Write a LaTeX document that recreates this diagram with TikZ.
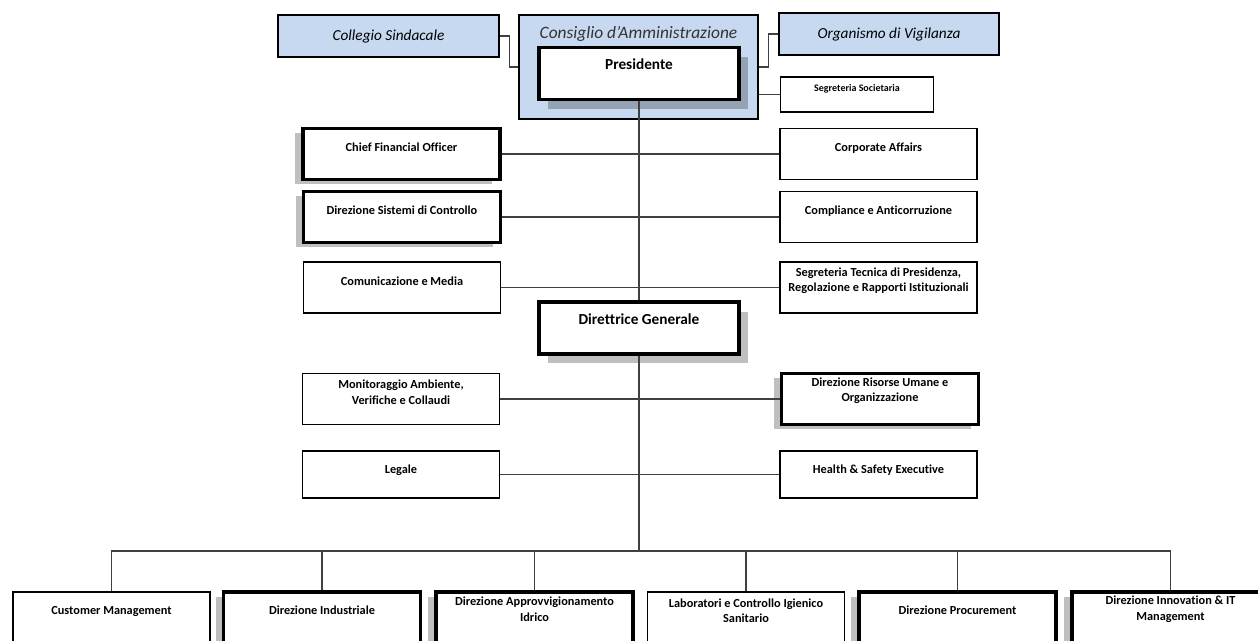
\documentclass[tikz,border=0pt]{standalone}
\usepackage{fontspec}
\setmainfont{Carlito}[Ligatures=NoCommon]
\usetikzlibrary{positioning,shadows}
\definecolor{boardblue}{HTML}{C6D9F1}
\definecolor{linegray}{HTML}{404040}

\begin{document}
\begin{tikzpicture}[
    x=0.02cm, y=-0.02cm,
    box/.style={rectangle, draw, line width=0.7pt, fill=white, minimum width=3.94cm, minimum height=1.02cm, inner sep=0pt},
    key/.style={box, line width=2pt},
    keyl/.style={key, drop shadow={fill=black, opacity=.25, shadow xshift=-4.5pt, shadow yshift=-2.8pt}},
    keyr/.style={key, drop shadow={fill=black, opacity=.25, shadow xshift=5.1pt, shadow yshift=-5.4pt}},
    organ/.style={rectangle, draw, line width=0.9pt, fill=boardblue, inner sep=0pt},
    txt/.style={font=\fontsize{7}{9}\selectfont\bfseries, align=center, inner sep=0pt},
    big/.style={font=\fontsize{8.7}{10}\selectfont\bfseries, inner sep=0pt},
    ital/.style={font=\fontsize{8.7}{10}\selectfont\itshape, inner sep=0pt},
    link/.style={draw=linegray, line width=0.6pt}
]
    \useasboundingbox (0,0) rectangle (1258,640);

    % board and control bodies
    \node[organ, ital, minimum width=4.42cm, minimum height=0.84cm] (cs) at (388.5,36) {Collegio Sindacale};
    \node[organ, minimum width=4.78cm, minimum height=2.08cm] (cda) at (638.5,67) {};
    \node[ital, font=\fontsize{9.9}{11}\selectfont\itshape, text=black!80] (cda-t) at ([yshift=-11.2pt]cda.north) {Consiglio d’Amministrazione};
    \node[organ, ital, minimum width=4.4cm, minimum height=0.84cm] (odv) at (889,34) {Organismo di Vigilanza};
    \node[keyr, minimum width=4.0cm, minimum height=1.04cm] (pres) at (639,73.5) {};
    \node[big] (pres-t) at ([yshift=-10.7pt]pres.north) {Presidente};
    \node[box, minimum width=3.06cm, minimum height=0.7cm] (segsoc) at (857,94.5) {};
    \node[txt, font=\fontsize{5.7}{7}\selectfont\bfseries] (segsoc-t) at ([yshift=-7pt]segsoc.north) {Segreteria Societaria};

    % staff of the president
    \node[keyl] (cfo) at (401.5,154) {};
    \node[txt] (cfo-t) at ([yshift=-11.4pt]cfo.north) {Chief Financial Officer};
    \node[box] (corpaff) at (878.5,154) {};
    \node[txt] (corpaff-t) at ([yshift=-11.4pt]corpaff.north) {Corporate Affairs};
    \node[keyl] (dsc) at (402,217) {};
    \node[txt] (dsc-t) at ([yshift=-11.4pt]dsc.north) {Direzione Sistemi di Controllo};
    \node[box] (compl) at (878.5,217) {};
    \node[txt] (compl-t) at ([yshift=-11.4pt]compl.north) {Compliance e Anticorruzione};
    \node[box] (comm) at (402,287.5) {};
    \node[txt] (comm-t) at ([yshift=-11.4pt]comm.north) {Comunicazione e Media};
    \node[box] (segtec) at (878.5,287.5) {};
    \node[txt] (segtec-t) at ([yshift=-11pt]segtec.north) {Segreteria Tecnica di Presidenza,\\Regolazione e Rapporti Istituzionali};

    % general management
    \node[keyr, minimum width=4.0cm, minimum height=1.04cm] (dg) at (639,328) {};
    \node[big] (dg-t) at ([yshift=-10.7pt]dg.north) {Direttrice Generale};
    \node[box] (monit) at (401,399) {};
    \node[txt] (monit-t) at ([yshift=-10.8pt]monit.north) {Monitoraggio Ambiente,\\Verifiche e Collaudi};
    \node[keyl] (hr) at (880,399) {};
    \node[txt] (hr-t) at ([yshift=-10.8pt]hr.north) {Direzione Risorse Umane e\\Organizzazione};
    \node[box, minimum height=0.94cm] (legal) at (401,474.5) {};
    \node[txt] (legal-t) at ([yshift=-11.4pt]legal.north) {Legale};
    \node[box, minimum height=0.94cm] (hse) at (878.5,474.5) {};
    \node[txt] (hse-t) at ([yshift=-11.4pt]hse.north) {Health \& Safety Executive};

    % operating directions
    \node[box, minimum height=1.04cm] (custm) at (111.5,618) {};
    \node[txt] (custm-t) at ([yshift=-11.4pt]custm.north) {Customer Management};
    \node[keyl, minimum height=1.04cm] (dind) at (322,618) {};
    \node[txt] (dind-t) at ([yshift=-11.4pt]dind.north) {Direzione Industriale};
    \node[keyl, minimum height=1.04cm] (dapp) at (534.5,618) {};
    \node[txt] (dapp-t) at ([yshift=-11pt]dapp.north) {Direzione Approvvigionamento\\Idrico};
    \node[box, minimum height=1.04cm] (lab) at (746,618) {};
    \node[txt] (lab-t) at ([yshift=-11pt]lab.north) {Laboratori e Controllo Igienico\\Sanitario};
    \node[keyl, minimum height=1.04cm] (dproc) at (957.5,618) {};
    \node[txt] (dproc-t) at ([yshift=-11.4pt]dproc.north) {Direzione Procurement};
    \node[keyl, minimum height=1.04cm] (dinno) at (1170.5,618) {};
    \node[txt] (dinno-t) at ([yshift=-11pt]dinno.north) {Direzione Innovation \& IT\\Management};

    % connectors
    \draw[link] (cs.east) -- ++(10,0) |- (cda.west);
    \draw[link] (odv.west) -- ++(-10,0) |- (cda.east);
    \draw[link] (cda.east |- segsoc.west) -- (segsoc.west);
    \draw[link] (pres) -- (dg);
    \draw[link] (cfo) -- (corpaff);
    \draw[link] (dsc) -- (compl);
    \draw[link] (comm) -- (segtec);
    \draw[link] (monit) -- (hr);
    \draw[link] (legal) -- (hse);
    \coordinate (bus) at (639,551);
    \draw[link] (dg) -- (bus);
    \draw[link] (bus) -| (custm);
    \draw[link] (bus) -| (dind);
    \draw[link] (bus) -| (dapp);
    \draw[link] (bus) -| (lab);
    \draw[link] (bus) -| (dproc);
    \draw[link] (bus) -| (dinno);
\end{tikzpicture}
\end{document}
